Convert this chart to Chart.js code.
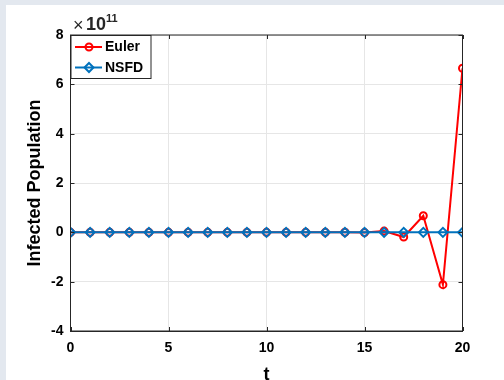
<!DOCTYPE html>
<html>
<head>
<meta charset="utf-8">
<script src="https://cdn.jsdelivr.net/npm/chart.js@4"></script>
<style>
  html, body { margin: 0; padding: 0; background: #ffffff; }
  #caja { position: relative; width: 504px; height: 380px; }
</style>
</head>
<body>
<div id="caja"><canvas id="grafico" width="504" height="380"></canvas></div>
<script>
// datos (valores en unidades de 10^11)
let tiempos = [0, 1, 2, 3, 4, 5, 6, 7, 8, 9, 10, 11, 12, 13, 14, 15, 16, 17, 18, 19, 20];
let euler = [0, 0, 0, 0, 0, 0, 0, 0, 0, 0, 0, 0, 0, 0.001, 0.003, -0.01, 0.05, -0.19, 0.67, -2.12, 6.65];
let nsfd = [0, 0, 0, 0, 0, 0, 0, 0, 0, 0, 0, 0, 0, 0, 0, 0, 0, 0, 0, 0, 0];
let ticksX = [0, 5, 10, 15, 20];
let ticksY = [-4, -2, 0, 2, 4, 6, 8];
let etiquetas = ["Euler", "NSFD"];
let colores = ["#ff0000", "#0072bd"];

let fuente = "'Liberation Sans', Arial, Helvetica, sans-serif";

function puntos(xs, ys) {
  return xs.map((x, i) => ({ x: x, y: ys[i] }));
}

// fondo, caja, marcas hacia dentro, exponente y leyenda
const extras = {
  id: "extras",
  beforeDraw(chart) {
    let ctx = chart.ctx;
    ctx.save();
    ctx.fillStyle = "#e3e8ef";
    ctx.fillRect(0, 0, 504, 380);
    ctx.fillStyle = "#ffffff";
    ctx.fillRect(6, 5, 498, 375);
    ctx.restore();
  },
  afterDatasetsDraw(chart) {
    let ctx = chart.ctx;
    let a = chart.chartArea;
    let sx = chart.scales.x;
    let sy = chart.scales.y;
    ctx.save();
    ctx.strokeStyle = "#262626";
    ctx.lineWidth = 1;
    ctx.strokeRect(a.left, a.top, a.right - a.left, a.bottom - a.top);
    ctx.beginPath();
    ticksX.forEach(v => {
      let px = Math.round(sx.getPixelForValue(v)) + 0.5;
      ctx.moveTo(px, a.bottom); ctx.lineTo(px, a.bottom - 4);
      ctx.moveTo(px, a.top); ctx.lineTo(px, a.top + 4);
    });
    ticksY.forEach(v => {
      let py = Math.round(sy.getPixelForValue(v)) + 0.5;
      ctx.moveTo(a.left, py); ctx.lineTo(a.left + 4, py);
      ctx.moveTo(a.right, py); ctx.lineTo(a.right - 4, py);
    });
    ctx.stroke();

    // exponente
    ctx.fillStyle = "#262626";
    ctx.textBaseline = "alphabetic";
    ctx.font = "18px " + fuente;
    ctx.fillText("\u00d7", 73, 31);
    ctx.font = "bold 18px " + fuente;
    ctx.fillText("10", 86, 30);
    ctx.font = "bold 11px " + fuente;
    ctx.fillText("11", 106, 22);

    // leyenda
    let lx = a.left + 0.5, ly = a.top + 0.5;
    ctx.fillStyle = "#ffffff";
    ctx.fillRect(lx, ly, 80, 43);
    ctx.strokeStyle = "#262626";
    ctx.strokeRect(lx, ly, 80, 43);
    let filas = [47, 67.5];
    chart.data.datasets.forEach((ds, i) => {
      let y = filas[i];
      ctx.strokeStyle = ds.borderColor;
      ctx.lineWidth = 2;
      ctx.beginPath();
      ctx.moveTo(75, y); ctx.lineTo(102, y);
      ctx.stroke();
      ctx.beginPath();
      if (ds.pointStyle === "circle") {
        ctx.arc(89, y, 3.5, 0, Math.PI * 2);
      } else {
        ctx.moveTo(89, y - 4.5); ctx.lineTo(93.5, y); ctx.lineTo(89, y + 4.5); ctx.lineTo(84.5, y); ctx.closePath();
      }
      ctx.stroke();
      ctx.fillStyle = "#000000";
      ctx.font = "bold 14px " + fuente;
      ctx.textBaseline = "middle";
      ctx.fillText(ds.label, 105, y + 0.5);
    });
    ctx.restore();
  }
};

let ctx = document.getElementById("grafico").getContext("2d");
let chartInfectados = new Chart(ctx, {
  type: "scatter",
  data: {
    datasets: [
      {
        label: etiquetas[0],
        data: puntos(tiempos, euler),
        showLine: true,
        borderColor: colores[0],
        backgroundColor: "rgba(0,0,0,0)",
        borderWidth: 2,
        pointStyle: "circle",
        pointRadius: 3.5,
        pointBorderWidth: 2,
        pointBorderColor: colores[0],
        pointBackgroundColor: "rgba(0,0,0,0)",
        order: 2,
      },
      {
        label: etiquetas[1],
        data: puntos(tiempos, nsfd),
        showLine: true,
        borderColor: colores[1],
        backgroundColor: "rgba(0,0,0,0)",
        borderWidth: 2,
        pointStyle: "rectRot",
        pointRadius: 4.5,
        pointBorderWidth: 2,
        pointBorderColor: colores[1],
        pointBackgroundColor: "rgba(0,0,0,0)",
        order: 1,
      },
    ],
  },
  options: {
    responsive: false,
    animation: false,
    events: [],
    layout: { padding: { left: 0, top: 35, right: 41.5, bottom: 0 } },
    plugins: { legend: { display: false }, tooltip: { enabled: false } },
    scales: {
      x: {
        type: "linear",
        min: 0,
        max: 20,
        afterBuildTicks: (s) => { s.ticks = ticksX.map(v => ({ value: v })); },
        afterFit: (s) => { s.height = 49; },
        ticks: { color: "#000000", padding: 9, font: { family: fuente, size: 14, weight: "bold" } },
        grid: { color: "#e6e6e6", drawTicks: false },
        border: { color: "#262626" },
        title: {
          display: true,
          text: "t",
          color: "#000000",
          font: { family: fuente, size: 18, weight: "bold", lineHeight: 0.6 },
          padding: { top: 0, bottom: 0 },
        },
      },
      y: {
        type: "linear",
        min: -4,
        max: 8,
        afterBuildTicks: (s) => { s.ticks = ticksY.map(v => ({ value: v })); },
        afterFit: (s) => { s.width = 70.5; },
        ticks: { color: "#000000", padding: 7, font: { family: fuente, size: 14, weight: "bold" } },
        grid: { color: "#e6e6e6", drawTicks: false },
        border: { color: "#262626" },
        title: {
          display: true,
          text: "Infected Population",
          color: "#000000",
          font: { family: fuente, size: 18, weight: "bold", lineHeight: 1.2 },
          padding: { top: 24, bottom: 0 },
        },
      },
    },
  },
  plugins: [extras],
});
</script>
</body>
</html>
